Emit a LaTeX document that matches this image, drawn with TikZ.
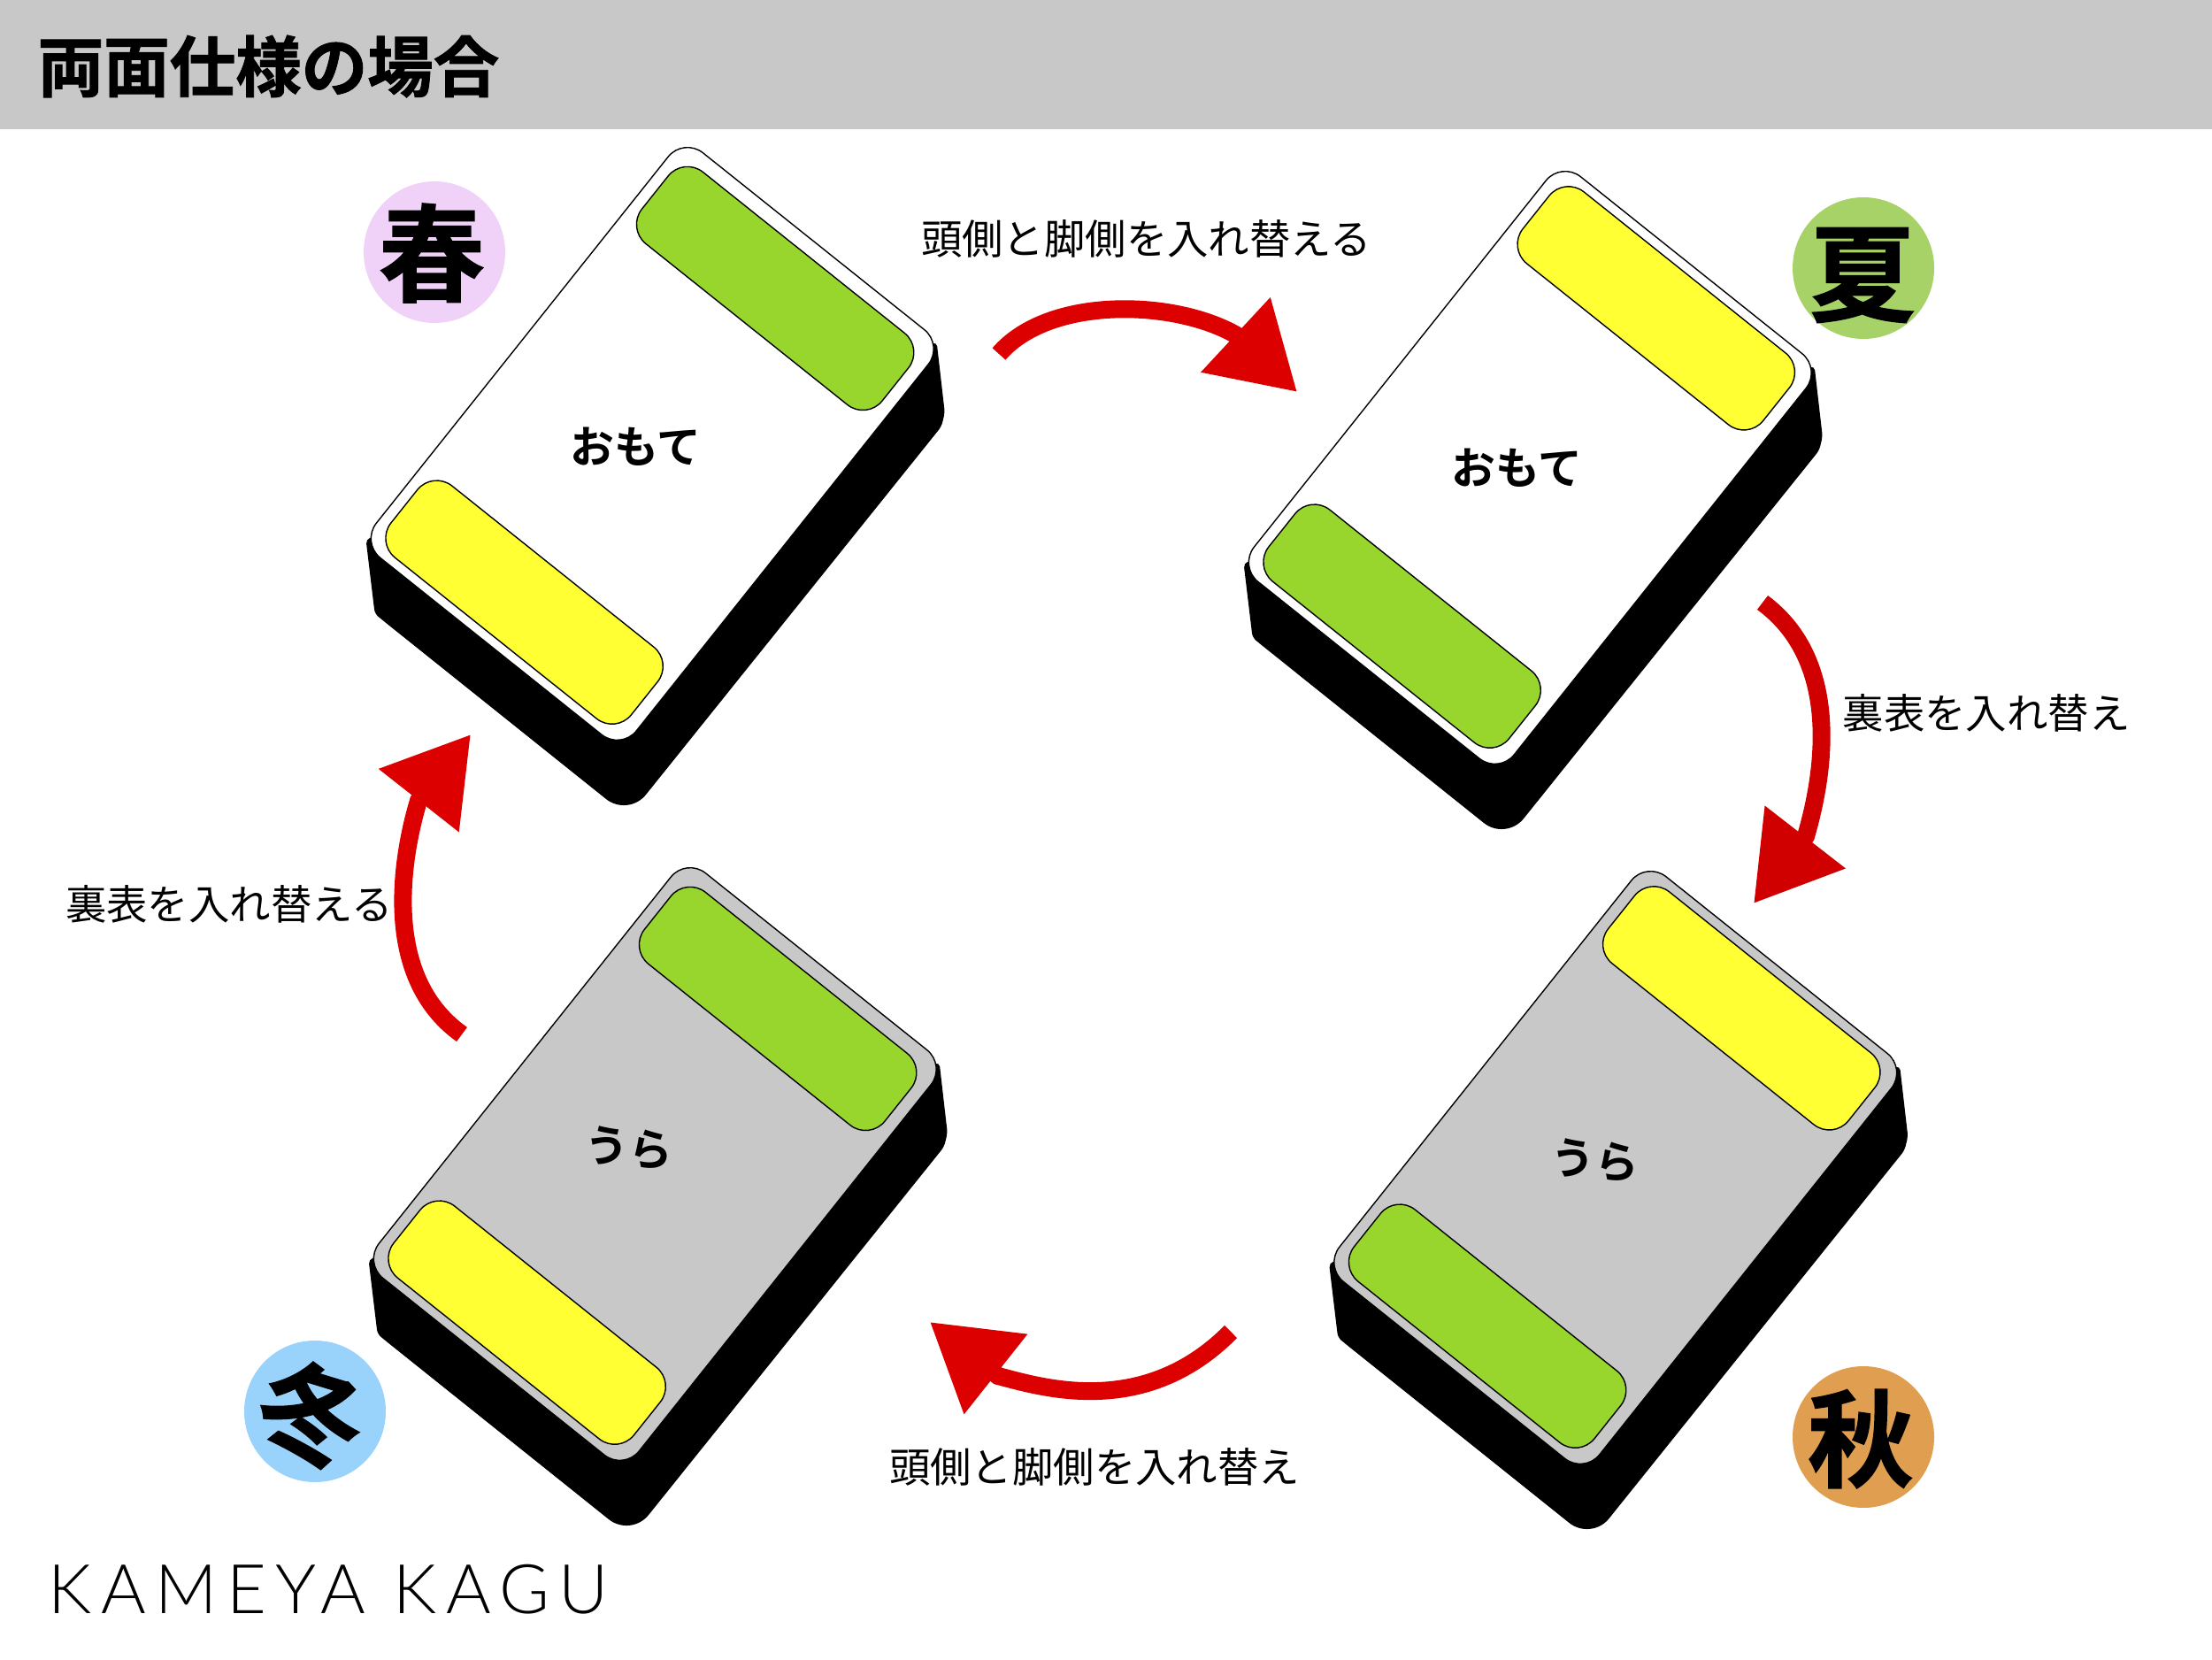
\documentclass[tikz,border=0pt]{standalone}
\usepackage{fontspec}
\usetikzlibrary{arrows.meta}
\newfontfamily\cjklight{Noto Sans CJK JP}
\newfontfamily\cjkheavy[FakeBold=1.2]{Noto Sans CJK JP Bold}
\newfontfamily\cjkmid{Noto Sans CJK JP Bold}
\newfontfamily\logofont[LetterSpace=13.5]{Lato Light}
\definecolor{panelgray}{HTML}{C8C8C8}
\definecolor{padgreen}{HTML}{98D62E}
\definecolor{padyellow}{HTML}{FFFF33}
\definecolor{arrowred}{HTML}{DC0000}
\definecolor{arrowreddark}{HTML}{D00000}
\definecolor{harucol}{HTML}{F0D2F8}
\definecolor{natsucol}{HTML}{A6D268}
\definecolor{akicol}{HTML}{DF9E50}
\definecolor{fuyucol}{HTML}{99D2FA}
\tikzset{
    facepath/.style = {draw=black, line width=0.4pt, rounded corners=0.28cm},
    mycaption/.style = {inner sep=0pt, text=black, font=\cjklight\fontsize{13.2}{13.2}\selectfont},
    myface/.style = {inner sep=0pt, text=black, font=\cjkmid\fontsize{14.2}{14.2}\selectfont},
    mydisc/.style = {circle, inner sep=0pt, minimum size=1.6cm},
    myglyph/.style = {inner sep=0pt, text=black, font=\cjkheavy\fontsize{34}{34}\selectfont},
    edger/.style = {draw=arrowred, line width=0.2cm, -{Triangle[length=0.95cm,width=1.1cm]}},
}
% left corner x, left corner y, face colour, far pad, near pad, far pad from, far pad to
\newcommand{\drawcard}[7]{
\begin{scope}[shift={(#1,#2)}]
\fill[black, rounded corners=0.05cm] (0.055,0.036) -- (0.156,-0.806) -- (0.248,-0.882)
    [rounded corners=0.32cm] -- (3.02,-3.10) [rounded corners=0.05cm] -- (6.56,1.31) -- (6.598,1.465) -- (6.506,2.266) -- cycle;
\begin{scope}[cm={3.646,4.577,2.939,-2.347,(0,0)}]
\draw[facepath, fill=#3] (0,0) -- (1,0) -- (1,1) -- (0,1) -- cycle;
\draw[facepath, fill=#4] (#6,0.036) -- (#7,0.036) -- (#7,0.96) -- (#6,0.96) -- cycle;
\draw[facepath, fill=#5] (0.018,0.034) -- (0.195,0.034) -- (0.195,0.958) -- (0.018,0.958) -- cycle;
\end{scope}
\end{scope}
}

\begin{document}
\begin{tikzpicture}
\useasboundingbox (0,0) rectangle (25,18.75);
\fill[panelgray] (0,17.29) rectangle (25,18.75);
\node[inner sep=0pt, anchor=west, font=\cjkheavy\fontsize{21.2}{21.2}\selectfont] at (0.42,18.0) (title) {両面仕様の場合};

\drawcard{4.08}{12.62}{white}{padgreen}{padyellow}{0.794}{0.971}
\drawcard{14.00}{12.35}{white}{padyellow}{padgreen}{0.804}{0.981}
\drawcard{14.965}{4.44}{panelgray}{padyellow}{padgreen}{0.804}{0.981}
\drawcard{4.11}{4.48}{panelgray}{padgreen}{padyellow}{0.794}{0.971}

\node[myface] at (7.18,13.70) (front1) {おもて};
\node[myface] at (17.14,13.46) (front2) {おもて};
\node[myface, rotate=-5] at (18.03,5.63) (back1) {うら};
\node[myface, rotate=-5] at (7.11,5.77) (back2) {うら};

\node[mydisc, fill=harucol] at (4.91,15.90) (harudisc) {};
\node[mydisc, fill=natsucol] at (21.06,15.72) (natsudisc) {};
\node[mydisc, fill=akicol] at (21.06,2.51) (akidisc) {};
\node[mydisc, fill=fuyucol] at (3.56,2.80) (fuyudisc) {};
\node[myglyph] at (4.88,15.89) (haru) {春};
\node[myglyph] at (21.05,15.64) (natsu) {夏};
\node[myglyph] at (21.03,2.49) (aki) {秋};
\node[myglyph, rotate=-17] at (3.52,2.77) (fuyu) {冬};

\node[mycaption] at (12.955,16.05) (swap1) {頭側と脚側を入れ替える};
\node[mycaption] at (22.45,10.69) (flip1) {裏表を入れ替え};
\node[mycaption] at (12.37,2.17) (swap2) {頭側と脚側を入れ替え};
\node[mycaption] at (2.59,8.53) (flip2) {裏表を入れ替える};

\coordinate (a1) at (11.29,14.75);
\coordinate (m1) at (13.96,14.97);
\coordinate (b1) at (14.66,14.32);
\coordinate (a2) at (19.92,11.94);
\coordinate (m2) at (20.41,9.30);
\coordinate (b2) at (19.82,8.54);
\coordinate (a3) at (13.91,3.70);
\coordinate (m3) at (11.28,3.20);
\coordinate (b3) at (10.51,3.81);
\coordinate (a4) at (5.22,7.06);
\coordinate (m4) at (4.73,9.70);
\coordinate (b4) at (5.32,10.45);
\draw[edger] (a1) .. controls (11.85,15.40) and (13.25,15.37) .. (m1) -- (b1);
\draw[edger, draw=arrowreddark] (a2) .. controls (20.84,11.26) and (20.60,9.95) .. (m2) -- (b2);
\draw[edger] (a3) .. controls (12.92,2.70) and (11.75,3.08) .. (m3) -- (b3);
\draw[edger] (a4) .. controls (4.29,7.72) and (4.55,9.10) .. (m4) -- (b4);

\node[inner sep=0pt, anchor=west, font=\logofont\fontsize{22}{22}\selectfont] at (0.54,0.785) (logo) {KAMEYA KAGU};
\end{tikzpicture}
\end{document}
